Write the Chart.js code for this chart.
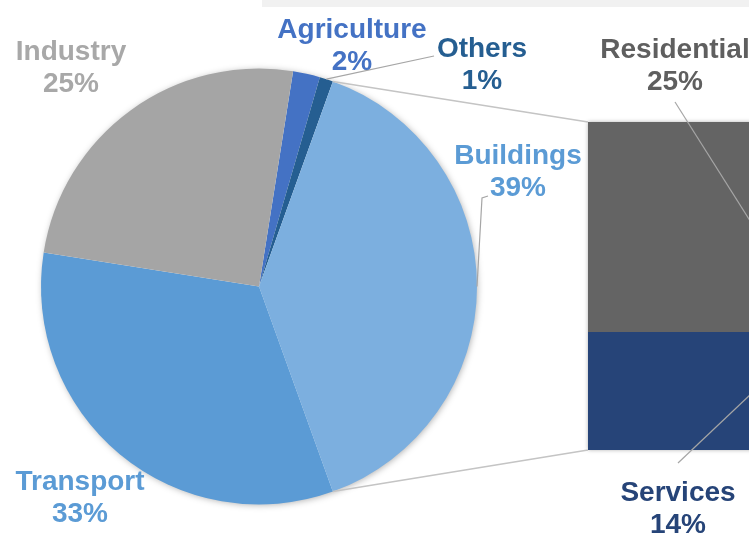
<!DOCTYPE html>
<html>
<head>
<meta charset="utf-8">
<title>Energy consumption by sector</title>
<script src="https://cdn.jsdelivr.net/npm/chart.js@4"></script>
<style>
  html, body { margin: 0; padding: 0; background: #fff; overflow: hidden; }
  #wrap { position: relative; width: 749px; height: 536px; overflow: hidden; }
  #strip { position: absolute; top: 0; left: 262px; width: 487px; height: 7px; background: #f1f1f1; }
  canvas { position: absolute; top: 0; left: 0; }
</style>
</head>
<body>
<div id="wrap">
  <div id="strip"></div>
  <canvas id="split" width="920" height="536"></canvas>
  <canvas id="sectors" width="749" height="536"></canvas>
</div>
<script>
// final consumption shares by sector (%)
const sectors = ['Agriculture', 'Others', 'Buildings', 'Transport', 'Industry'];
const sectorShares = [2, 1, 39, 33, 25];
const sectorColors = ['#4472c4', '#255e91', '#7cafdf', '#5b9bd5', '#a5a5a5'];
const sectorTextColors = ['#4472c4', '#255e91', '#5b9bd5', '#5b9bd5', '#a8a8a8'];

// the buildings slice broken down (%)
const buildingUses = ['Services', 'Residential'];
const buildingShares = [14, 25];
const useColors = ['#264478', '#646464'];
const useTextColors = ['#264478', '#5f5f5f'];

const FONT = 'bold 28px "Liberation Sans", Arial, sans-serif';
const LINE_H = 32;

// where each label sits: centre x, baseline of first line
const sectorLabelPos = {
  Agriculture: [352, 38],
  Others: [482, 57],
  Buildings: [518, 164],
  Transport: [80, 490],
  Industry: [71, 60]
};
const useLabelPos = {
  Residential: [675, 58],
  Services: [678, 501]
};

// soft shadow under the whole pie / bar
const pieShadow = {
  id: 'pieShadow',
  beforeDatasetsDraw(chart) {
    const arc = chart.getDatasetMeta(0).data[0];
    const c = chart.ctx;
    c.save();
    c.shadowColor = 'rgba(0,0,0,0.35)';
    c.shadowBlur = 7;
    c.shadowOffsetX = 1;
    c.shadowOffsetY = 1;
    c.fillStyle = '#fff';
    c.beginPath();
    c.arc(arc.x, arc.y, arc.outerRadius - 1, 0, Math.PI * 2);
    c.fill();
    c.restore();
  }
};

const barShadow = {
  id: 'barShadow',
  beforeDatasetsDraw(chart) {
    const bottom = chart.getDatasetMeta(0).data[0];
    const top = chart.getDatasetMeta(chart.data.datasets.length - 1).data[0];
    const c = chart.ctx;
    c.save();
    c.shadowColor = 'rgba(0,0,0,0.3)';
    c.shadowBlur = 4;
    c.fillStyle = '#fff';
    c.fillRect(top.x - top.width / 2, top.y, top.width, bottom.base - top.y);
    c.restore();
  }
};

const split = new Chart(document.getElementById('split'), {
  type: 'bar',
  data: {
    labels: ['Buildings'],
    datasets: buildingUses.map((name, i) => ({
      label: name,
      data: [buildingShares[i]],
      backgroundColor: useColors[i],
      borderWidth: 0,
      barPercentage: 1,
      categoryPercentage: 1
    }))
  },
  options: {
    responsive: false,
    animation: false,
    layout: { padding: { left: 588, top: 122, bottom: 86, right: 0 } },
    scales: {
      x: { display: false, stacked: true },
      y: { display: false, stacked: true, min: 0, max: sectorShares[sectors.indexOf('Buildings')] }
    },
    plugins: { legend: { display: false }, tooltip: { enabled: false } }
  },
  plugins: [barShadow]
});

function line(c, pts, color, width) {
  c.save();
  c.strokeStyle = color;
  c.lineWidth = width;
  c.beginPath();
  pts.forEach((p, i) => (i ? c.lineTo(p[0], p[1]) : c.moveTo(p[0], p[1])));
  c.stroke();
  c.restore();
}

function label(c, name, value, pos, color) {
  c.save();
  c.font = FONT;
  c.fillStyle = color;
  c.textAlign = 'center';
  c.textBaseline = 'alphabetic';
  c.fillText(name, pos[0], pos[1]);
  c.fillText(value + '%', pos[0], pos[1] + LINE_H);
  c.restore();
}

const overlay = {
  id: 'overlay',
  afterDraw(chart) {
    const c = chart.ctx;
    const arcs = chart.getDatasetMeta(0).data;
    const at = (arc, a, r) => [arc.x + r * Math.cos(a), arc.y + r * Math.sin(a)];
    const mid = arc => at(arc, (arc.startAngle + arc.endAngle) / 2, arc.outerRadius);

    // lines joining the buildings slice to the breakdown bar
    const bld = arcs[sectors.indexOf('Buildings')];
    const svc = split.getDatasetMeta(0).data[0];
    const res = split.getDatasetMeta(1).data[0];
    line(c, [at(bld, bld.startAngle, bld.outerRadius), [res.x - res.width / 2, res.y]], '#c4c4c4', 1.5);
    line(c, [at(bld, bld.endAngle, bld.outerRadius), [svc.x - svc.width / 2, svc.base]], '#c4c4c4', 1.5);

    // leader lines
    line(c, [mid(arcs[sectors.indexOf('Others')]), [434, 56]], '#a6a6a6', 1.2);
    const bm = mid(bld);
    line(c, [bm, [482, 198], [488, 196]], '#a6a6a6', 1.2);
    line(c, [[675, 102], [res.x, (res.y + res.base) / 2]], '#a6a6a6', 1.2);
    line(c, [[678, 463], [svc.x, (svc.y + svc.base) / 2]], '#a6a6a6', 1.2);

    sectors.forEach((s, i) => label(c, s, sectorShares[i], sectorLabelPos[s], sectorTextColors[i]));
    buildingUses.forEach((u, i) => label(c, u, buildingShares[i], useLabelPos[u], useTextColors[i]));
  }
};

const pie = new Chart(document.getElementById('sectors'), {
  type: 'pie',
  data: {
    labels: sectors,
    datasets: [{
      data: sectorShares,
      backgroundColor: sectorColors,
      borderWidth: 0
    }]
  },
  options: {
    responsive: false,
    animation: false,
    rotation: 9,
    layout: { padding: { left: 41, right: 272, top: 68, bottom: 31 } },
    plugins: { legend: { display: false }, tooltip: { enabled: false } }
  },
  plugins: [pieShadow, overlay]
});
</script>
</body>
</html>
